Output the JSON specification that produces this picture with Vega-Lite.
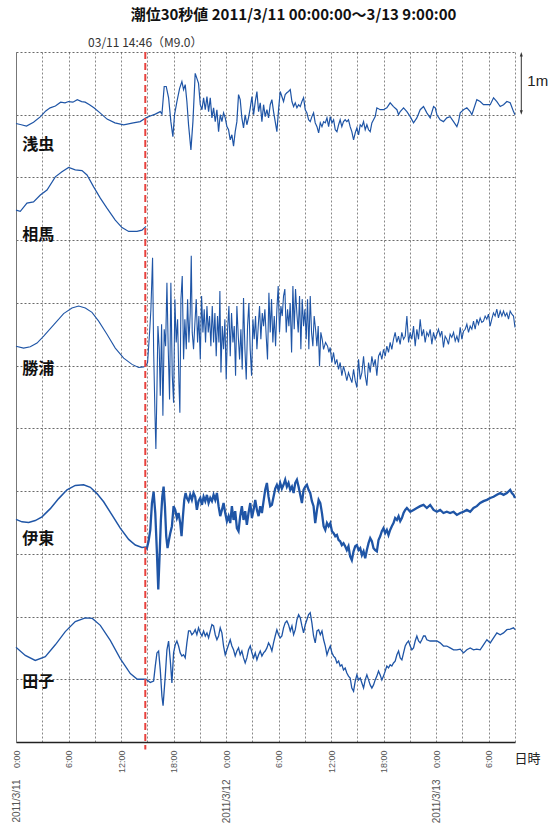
{
"$schema":"https://vega.github.io/schema/vega-lite/v6.json",
"width":499,"height":690,
"autosize":{"type":"none"},
"padding":{"left":16,"top":52,"right":33,"bottom":81},
"background":"white",
"title":{"text":"潮位30秒値  2011/3/11 00:00:00～3/13 9:00:00","font":"Noto Sans CJK JP","fontSize":15,"fontWeight":"bold","color":"#111","anchor":"middle","frame":"group","dx":28,"offset":2,"baseline":"alphabetic"},
"config":{"view":{"stroke":null}},
"resolve":{"axis":{"x":"independent","y":"independent"}},
"datasets":{
"asamushi":[{"h":0,"v":9.86},{"h":0.6,"v":9.84},{"h":1.2,"v":9.82},{"h":2.0,"v":9.88},{"h":2.8,"v":9.97},{"h":3.4,"v":10.06},{"h":3.9,"v":10.11},{"h":4.5,"v":10.14},{"h":5.1,"v":10.2},{"h":5.6,"v":10.19},{"h":6.0,"v":10.21},{"h":6.5,"v":10.2},{"h":7.0,"v":10.24},{"h":7.5,"v":10.21},{"h":7.9,"v":10.2},{"h":8.4,"v":10.16},{"h":8.9,"v":10.11},{"h":9.6,"v":10.03},{"h":10.4,"v":9.93},{"h":11.3,"v":9.87},{"h":12.3,"v":9.84},{"h":13.4,"v":9.87},{"h":14.19,"v":9.89},{"h":14.85,"v":9.95},
{"h":15.34,"v":9.98},{"h":15.91,"v":10.01},{"h":16.48,"v":10.05},{"h":16.67,"v":10.01},{"h":16.93,"v":10.45},{"h":17.16,"v":10.45},{"h":17.43,"v":10.27},{"h":17.69,"v":9.89},{"h":17.92,"v":9.65},{"h":18.11,"v":10.0},{"h":18.38,"v":10.21},{"h":18.69,"v":10.42},{"h":18.95,"v":10.53},{"h":19.14,"v":10.4},{"h":19.33,"v":10.48},{"h":19.52,"v":10.21},{"h":19.71,"v":9.84},{"h":19.98,"v":9.44},{"h":20.21,"v":9.89},{"h":20.47,"v":10.66},{"h":20.66,"v":10.58},{"h":20.85,"v":10.5},{"h":21.05,"v":10.16},{"h":21.24,"v":10.08},{"h":21.43,"v":10.27},{"h":21.62,"v":10.08},{"h":21.81,"v":10.29},{"h":22.0,"v":10.05},{"h":22.19,"v":10.27},{"h":22.38,"v":9.95},{"h":22.57,"v":10.11},{"h":22.76,"v":9.89},{"h":22.95,"v":10.08},{"h":23.14,"v":9.73},{"h":23.33,"v":10.0},{"h":23.52,"v":9.89},{"h":23.71,"v":10.03},{"h":23.9,"v":9.95},{"h":24.09,"v":9.81},{"h":24.28,"v":9.76},{"h":24.47,"v":9.6},{"h":24.66,"v":9.68},{"h":24.85,"v":9.5},{"h":25.04,"v":9.73},{"h":25.23,"v":9.89},{"h":25.42,"v":10.32},{"h":25.61,"v":10.24},{"h":25.8,"v":9.95},{"h":25.99,"v":9.79},{"h":26.18,"v":10.0},{"h":26.37,"v":9.84},{"h":26.56,"v":9.95},{"h":26.76,"v":10.11},{"h":26.95,"v":10.29},{"h":27.14,"v":10.0},{"h":27.33,"v":10.21},{"h":27.52,"v":10.37},{"h":27.71,"v":10.05},{"h":27.9,"v":10.19},{"h":28.09,"v":9.89},{"h":28.28,"v":10.16},{"h":28.47,"v":9.97},{"h":28.66,"v":10.08},{"h":28.85,"v":9.95},{"h":29.04,"v":10.16},{"h":29.23,"v":10.24},{"h":29.42,"v":10.05},{"h":29.61,"v":9.89},{"h":29.8,"v":9.73},{"h":29.99,"v":10.08},{"h":30.18,"v":10.37},{"h":30.37,"v":10.29},{"h":30.56,"v":10.21},{"h":30.75,"v":10.32},{"h":30.94,"v":10.35},{"h":31.13,"v":10.37},{"h":31.33,"v":10.4},{"h":31.52,"v":10.21},{"h":31.71,"v":10.13},{"h":31.9,"v":10.19},{"h":32.09,"v":10.11},{"h":32.28,"v":10.16},{"h":32.47,"v":10.13},{"h":32.66,"v":10.21},{"h":32.85,"v":10.27},{"h":33.04,"v":10.08},{"h":33.23,"v":10.03},{"h":33.42,"v":9.92},{"h":33.61,"v":9.89},{"h":33.8,"v":9.97},{"h":33.99,"v":10.03},{"h":34.18,"v":9.87},{"h":34.38,"v":9.81},{"h":34.57,"v":9.71},{"h":34.76,"v":9.87},{"h":34.95,"v":9.81},{"h":35.14,"v":9.89},{"h":35.33,"v":9.87},{"h":35.52,"v":9.95},{"h":35.71,"v":9.81},{"h":35.9,"v":9.97},{"h":36.09,"v":9.87},{"h":36.28,"v":9.92},{"h":36.47,"v":9.76},{"h":36.66,"v":9.73},{"h":36.85,"v":9.84},{"h":37.03,"v":9.92},{"h":37.22,"v":9.81},{"h":37.41,"v":9.89},{"h":37.6,"v":9.92},{"h":37.79,"v":9.89},{"h":37.98,"v":9.92},{"h":38.17,"v":9.81},{"h":38.36,"v":9.73},{"h":38.56,"v":9.6},{"h":38.75,"v":9.71},{"h":38.94,"v":9.79},{"h":39.13,"v":9.68},{"h":39.32,"v":9.84},{"h":39.51,"v":9.81},{"h":39.7,"v":9.89},{"h":39.89,"v":9.76},{"h":40.08,"v":9.84},{"h":40.27,"v":9.76},{"h":40.46,"v":9.73},{"h":40.65,"v":9.87},{"h":40.84,"v":9.92},{"h":41.03,"v":9.97},{"h":41.22,"v":10.11},{"h":41.6,"v":10.08},{"h":41.98,"v":10.08},{"h":42.36,"v":10.11},{"h":42.74,"v":10.19},{"h":43.12,"v":10.13},{"h":43.51,"v":10.08},{"h":43.7,"v":10.0},{"h":43.89,"v":10.05},{"h":44.27,"v":10.11},{"h":44.65,"v":10.05},{"h":45.03,"v":9.97},{"h":45.41,"v":9.87},{"h":45.79,"v":9.95},{"h":46.17,"v":10.08},{"h":46.55,"v":10.13},{"h":46.93,"v":10.03},{"h":47.31,"v":9.95},{"h":47.7,"v":10.13},{"h":47.89,"v":10.11},{"h":48.08,"v":10.0},{"h":48.45,"v":9.92},{"h":48.83,"v":9.89},{"h":49.21,"v":9.95},{"h":49.59,"v":9.97},{"h":49.98,"v":9.89},{"h":50.36,"v":9.81},{"h":50.55,"v":9.89},{"h":50.74,"v":10.03},{"h":51.12,"v":10.08},{"h":51.5,"v":10.11},{"h":51.88,"v":10.05},{"h":52.07,"v":10.0},{"h":52.26,"v":10.08},{"h":52.64,"v":10.24},{"h":53.02,"v":10.21},{"h":53.4,"v":10.16},{"h":53.79,"v":10.16},{"h":54.17,"v":10.16},{"h":54.55,"v":10.27},{"h":54.93,"v":10.21},{"h":55.31,"v":10.13},{"h":55.69,"v":10.16},{"h":56.07,"v":10.21},{"h":56.45,"v":10.19},{"h":56.83,"v":10.05},{"h":57.0,"v":10.0}],
"soma":[{"h":0,"v":8.48},{"h":0.49,"v":8.46},{"h":1.25,"v":8.59},{"h":2.0,"v":8.61},{"h":2.78,"v":8.72},{"h":3.54,"v":8.8},{"h":4.49,"v":9.01},{"h":5.25,"v":9.09},{"h":6.01,"v":9.16},{"h":6.77,"v":9.12},{"h":7.54,"v":9.11},{"h":8.11,"v":9.04},{"h":8.87,"v":8.85},{"h":9.63,"v":8.67},{"h":10.39,"v":8.51},{"h":11.34,"v":8.32},{"h":12.11,"v":8.2},{"h":12.87,"v":8.14},{"h":13.82,"v":8.14},{"h":14.39,"v":8.16},{"h":14.85,"v":8.22}],
"katsuura":[{"h":0,"v":6.31},{"h":0.87,"v":6.28},{"h":1.63,"v":6.3},{"h":2.4,"v":6.36},{"h":3.16,"v":6.47},{"h":4.3,"v":6.65},{"h":5.44,"v":6.83},{"h":6.39,"v":6.92},{"h":7.16,"v":6.95},{"h":7.92,"v":6.92},{"h":8.68,"v":6.85},{"h":9.44,"v":6.71},{"h":10.39,"v":6.5},{"h":11.34,"v":6.28},{"h":12.3,"v":6.12},{"h":13.25,"v":6.02},{"h":14.01,"v":5.97},{"h":14.58,"v":5.98},{"h":14.85,"v":6.0},
{"h":15.03,"v":6.05},{"h":15.26,"v":6.53},{"h":15.41,"v":6.9},{"h":15.6,"v":7.72},{"h":15.72,"v":6.26},{"h":15.87,"v":5.25},{"h":15.98,"v":4.67},{"h":16.1,"v":5.62},{"h":16.21,"v":6.63},{"h":16.36,"v":6.26},{"h":16.48,"v":5.52},{"h":16.63,"v":6.66},{"h":16.78,"v":5.2},{"h":16.93,"v":6.58},{"h":17.09,"v":6.31},{"h":17.24,"v":7.32},{"h":17.39,"v":6.26},{"h":17.54,"v":5.46},{"h":17.69,"v":7.32},{"h":17.85,"v":5.84},{"h":18.0,"v":5.41},{"h":18.15,"v":7.06},{"h":18.3,"v":6.37},{"h":18.46,"v":6.74},{"h":18.61,"v":5.73},{"h":18.72,"v":5.25},{"h":18.84,"v":7.06},{"h":18.99,"v":7.43},{"h":19.14,"v":6.1},{"h":19.29,"v":6.74},{"h":19.45,"v":6.26},{"h":19.6,"v":7.06},{"h":19.75,"v":6.37},{"h":19.9,"v":6.84},{"h":20.02,"v":7.75},{"h":20.13,"v":6.53},{"h":20.28,"v":6.26},{"h":20.44,"v":6.69},{"h":20.59,"v":7.06},{"h":20.74,"v":6.37},{"h":20.89,"v":6.79},{"h":21.05,"v":6.1},{"h":21.2,"v":7.11},{"h":21.35,"v":6.53},{"h":21.5,"v":6.9},{"h":21.65,"v":6.37},{"h":21.81,"v":6.95},{"h":21.96,"v":6.53},{"h":22.11,"v":6.79},{"h":22.26,"v":6.31},{"h":22.42,"v":6.95},{"h":22.57,"v":6.37},{"h":22.72,"v":6.84},{"h":22.87,"v":6.15},{"h":23.02,"v":6.79},{"h":23.18,"v":6.37},{"h":23.29,"v":7.19},{"h":23.41,"v":5.89},{"h":23.56,"v":6.63},{"h":23.71,"v":6.26},{"h":23.86,"v":6.74},{"h":24.01,"v":5.78},{"h":24.17,"v":6.58},{"h":24.32,"v":6.95},{"h":24.47,"v":6.15},{"h":24.62,"v":6.84},{"h":24.78,"v":6.37},{"h":24.93,"v":6.63},{"h":25.08,"v":5.84},{"h":25.23,"v":6.95},{"h":25.39,"v":6.47},{"h":25.54,"v":6.1},{"h":25.69,"v":6.58},{"h":25.84,"v":5.94},{"h":25.99,"v":7.08},{"h":26.15,"v":6.26},{"h":26.3,"v":5.78},{"h":26.45,"v":6.63},{"h":26.6,"v":7.0},{"h":26.75,"v":6.26},{"h":26.91,"v":5.84},{"h":27.06,"v":6.74},{"h":27.21,"v":6.42},{"h":27.36,"v":6.79},{"h":27.52,"v":6.26},{"h":27.67,"v":6.63},{"h":27.82,"v":6.95},{"h":27.97,"v":6.42},{"h":28.13,"v":6.84},{"h":28.28,"v":6.63},{"h":28.43,"v":6.9},{"h":28.58,"v":6.47},{"h":28.73,"v":6.1},{"h":28.89,"v":7.16},{"h":29.04,"v":6.53},{"h":29.19,"v":7.06},{"h":29.34,"v":6.37},{"h":29.5,"v":6.79},{"h":29.65,"v":6.31},{"h":29.8,"v":6.9},{"h":29.95,"v":7.27},{"h":30.1,"v":6.53},{"h":30.26,"v":6.95},{"h":30.41,"v":6.79},{"h":30.56,"v":7.11},{"h":30.71,"v":7.22},{"h":30.87,"v":6.53},{"h":31.02,"v":6.9},{"h":31.17,"v":6.63},{"h":31.32,"v":7.0},{"h":31.48,"v":6.21},{"h":31.63,"v":7.27},{"h":31.78,"v":6.58},{"h":31.93,"v":7.22},{"h":32.08,"v":6.84},{"h":32.24,"v":6.53},{"h":32.39,"v":7.11},{"h":32.54,"v":6.26},{"h":32.69,"v":7.06},{"h":32.85,"v":6.63},{"h":33.0,"v":6.9},{"h":33.15,"v":6.42},{"h":33.3,"v":7.06},{"h":33.45,"v":6.26},{"h":33.61,"v":7.11},{"h":33.76,"v":6.53},{"h":33.91,"v":6.31},{"h":34.06,"v":6.79},{"h":34.22,"v":6.58},{"h":34.37,"v":6.31},{"h":34.52,"v":6.63},{"h":34.67,"v":5.99},{"h":34.82,"v":6.53},{"h":34.98,"v":6.42},{"h":35.13,"v":6.26},{"h":35.36,"v":6.37},{"h":35.59,"v":6.31},{"h":35.74,"v":6.21},{"h":35.89,"v":6.29},{"h":36.08,"v":6.05},{"h":36.27,"v":6.21},{"h":36.46,"v":6.02},{"h":36.65,"v":6.1},{"h":36.84,"v":5.94},{"h":37.03,"v":6.05},{"h":37.22,"v":5.84},{"h":37.41,"v":5.99},{"h":37.6,"v":5.89},{"h":37.79,"v":5.76},{"h":37.98,"v":5.89},{"h":38.17,"v":5.81},{"h":38.37,"v":5.73},{"h":38.56,"v":5.94},{"h":38.75,"v":5.76},{"h":38.94,"v":5.65},{"h":39.13,"v":6.1},{"h":39.32,"v":5.78},{"h":39.51,"v":5.89},{"h":39.7,"v":6.15},{"h":39.89,"v":5.84},{"h":40.08,"v":5.68},{"h":40.27,"v":6.05},{"h":40.46,"v":5.89},{"h":40.65,"v":6.15},{"h":40.84,"v":5.99},{"h":41.03,"v":6.1},{"h":41.22,"v":5.84},{"h":41.41,"v":6.15},{"h":41.6,"v":6.21},{"h":41.79,"v":6.1},{"h":41.98,"v":6.26},{"h":42.17,"v":6.15},{"h":42.36,"v":6.31},{"h":42.55,"v":6.21},{"h":42.74,"v":6.37},{"h":42.93,"v":6.26},{"h":43.12,"v":6.42},{"h":43.31,"v":6.53},{"h":43.5,"v":6.37},{"h":43.69,"v":6.47},{"h":43.88,"v":6.34},{"h":44.07,"v":6.53},{"h":44.27,"v":6.42},{"h":44.46,"v":6.47},{"h":44.65,"v":6.79},{"h":44.84,"v":6.37},{"h":45.03,"v":6.53},{"h":45.22,"v":6.42},{"h":45.41,"v":6.63},{"h":45.6,"v":6.31},{"h":45.79,"v":6.58},{"h":45.98,"v":6.42},{"h":46.17,"v":6.74},{"h":46.36,"v":6.47},{"h":46.55,"v":6.58},{"h":46.74,"v":6.37},{"h":46.93,"v":6.53},{"h":47.12,"v":6.47},{"h":47.31,"v":6.58},{"h":47.5,"v":6.34},{"h":47.69,"v":6.53},{"h":47.88,"v":6.42},{"h":48.07,"v":6.5},{"h":48.26,"v":6.58},{"h":48.45,"v":6.47},{"h":48.64,"v":6.55},{"h":48.83,"v":6.29},{"h":49.02,"v":6.47},{"h":49.21,"v":6.42},{"h":49.4,"v":6.34},{"h":49.59,"v":6.5},{"h":49.78,"v":6.45},{"h":49.98,"v":6.53},{"h":50.17,"v":6.39},{"h":50.36,"v":6.47},{"h":50.55,"v":6.37},{"h":50.74,"v":6.61},{"h":50.93,"v":6.42},{"h":51.12,"v":6.55},{"h":51.31,"v":6.58},{"h":51.5,"v":6.66},{"h":51.69,"v":6.53},{"h":51.88,"v":6.63},{"h":52.07,"v":6.58},{"h":52.26,"v":6.71},{"h":52.45,"v":6.58},{"h":52.64,"v":6.74},{"h":52.83,"v":6.66},{"h":53.02,"v":6.76},{"h":53.21,"v":6.69},{"h":53.4,"v":6.71},{"h":53.59,"v":6.79},{"h":53.78,"v":6.74},{"h":53.97,"v":6.82},{"h":54.16,"v":6.63},{"h":54.35,"v":6.74},{"h":54.54,"v":6.84},{"h":54.73,"v":6.79},{"h":54.92,"v":6.9},{"h":55.11,"v":6.76},{"h":55.31,"v":6.87},{"h":55.5,"v":6.79},{"h":55.69,"v":6.87},{"h":55.88,"v":6.79},{"h":56.07,"v":6.84},{"h":56.26,"v":6.74},{"h":56.45,"v":6.87},{"h":56.64,"v":6.82},{"h":56.83,"v":6.79},{"h":57.0,"v":6.61}],
"ito":[{"h":0,"v":3.55},{"h":0.68,"v":3.51},{"h":1.44,"v":3.5},{"h":2.2,"v":3.53},{"h":2.97,"v":3.59},{"h":3.92,"v":3.72},{"h":4.87,"v":3.88},{"h":5.83,"v":4.02},{"h":6.77,"v":4.09},{"h":7.72,"v":4.1},{"h":8.49,"v":4.06},{"h":9.25,"v":3.96},{"h":10.01,"v":3.83},{"h":10.96,"v":3.62},{"h":11.91,"v":3.41},{"h":12.87,"v":3.23},{"h":13.63,"v":3.14},{"h":14.39,"v":3.1},{"h":14.85,"v":3.11},
{"h":14.95,"v":3.09},{"h":15.14,"v":3.2},{"h":15.34,"v":3.38},{"h":15.53,"v":3.81},{"h":15.72,"v":3.99},{"h":15.91,"v":3.65},{"h":16.1,"v":3.01},{"h":16.25,"v":2.43},{"h":16.4,"v":2.96},{"h":16.55,"v":3.54},{"h":16.71,"v":3.91},{"h":16.86,"v":4.07},{"h":17.01,"v":3.76},{"h":17.16,"v":3.28},{"h":17.31,"v":3.09},{"h":17.47,"v":3.22},{"h":17.62,"v":3.33},{"h":17.81,"v":3.44},{"h":18.0,"v":3.76},{"h":18.19,"v":3.7},{"h":18.38,"v":3.57},{"h":18.57,"v":3.65},{"h":18.76,"v":3.49},{"h":18.91,"v":3.28},{"h":19.07,"v":3.6},{"h":19.22,"v":3.86},{"h":19.37,"v":3.97},{"h":19.52,"v":3.89},{"h":19.71,"v":3.84},{"h":19.9,"v":3.94},{"h":20.09,"v":3.86},{"h":20.28,"v":3.97},{"h":20.47,"v":3.91},{"h":20.66,"v":3.7},{"h":20.85,"v":3.84},{"h":21.05,"v":3.89},{"h":21.24,"v":3.78},{"h":21.43,"v":3.91},{"h":21.62,"v":3.84},{"h":21.81,"v":3.94},{"h":22.0,"v":3.81},{"h":22.19,"v":3.89},{"h":22.38,"v":3.84},{"h":22.57,"v":3.94},{"h":22.76,"v":3.86},{"h":22.95,"v":3.97},{"h":23.14,"v":3.76},{"h":23.33,"v":3.6},{"h":23.52,"v":3.7},{"h":23.71,"v":3.81},{"h":23.9,"v":3.65},{"h":24.09,"v":3.52},{"h":24.28,"v":3.6},{"h":24.47,"v":3.49},{"h":24.66,"v":3.76},{"h":24.85,"v":3.54},{"h":25.04,"v":3.68},{"h":25.23,"v":3.41},{"h":25.42,"v":3.36},{"h":25.61,"v":3.6},{"h":25.8,"v":3.76},{"h":25.99,"v":3.54},{"h":26.18,"v":3.68},{"h":26.37,"v":3.46},{"h":26.56,"v":3.65},{"h":26.76,"v":3.81},{"h":26.95,"v":3.57},{"h":27.14,"v":3.7},{"h":27.33,"v":3.86},{"h":27.52,"v":3.7},{"h":27.71,"v":3.6},{"h":27.9,"v":3.76},{"h":28.09,"v":3.65},{"h":28.28,"v":3.84},{"h":28.47,"v":4.02},{"h":28.66,"v":4.13},{"h":28.85,"v":3.91},{"h":29.04,"v":3.76},{"h":29.23,"v":3.78},{"h":29.42,"v":3.91},{"h":29.61,"v":4.04},{"h":29.8,"v":4.1},{"h":29.99,"v":4.02},{"h":30.18,"v":4.13},{"h":30.37,"v":4.04},{"h":30.56,"v":4.1},{"h":30.75,"v":4.18},{"h":30.94,"v":4.07},{"h":31.13,"v":4.13},{"h":31.33,"v":4.02},{"h":31.52,"v":4.07},{"h":31.71,"v":3.97},{"h":31.9,"v":4.13},{"h":32.09,"v":4.18},{"h":32.28,"v":4.07},{"h":32.47,"v":3.94},{"h":32.66,"v":3.81},{"h":32.85,"v":4.02},{"h":33.04,"v":4.07},{"h":33.23,"v":4.1},{"h":33.42,"v":4.02},{"h":33.61,"v":3.97},{"h":33.8,"v":3.84},{"h":33.99,"v":3.76},{"h":34.18,"v":3.49},{"h":34.38,"v":3.7},{"h":34.57,"v":3.86},{"h":34.76,"v":3.81},{"h":34.95,"v":3.65},{"h":35.14,"v":3.44},{"h":35.33,"v":3.38},{"h":35.52,"v":3.49},{"h":35.71,"v":3.44},{"h":35.9,"v":3.49},{"h":36.09,"v":3.36},{"h":36.28,"v":3.33},{"h":36.47,"v":3.28},{"h":36.66,"v":3.3},{"h":36.85,"v":3.22},{"h":37.03,"v":3.2},{"h":37.22,"v":3.14},{"h":37.41,"v":3.17},{"h":37.6,"v":3.12},{"h":37.79,"v":3.06},{"h":37.98,"v":3.12},{"h":38.17,"v":2.96},{"h":38.36,"v":2.9},{"h":38.56,"v":3.04},{"h":38.75,"v":3.12},{"h":38.94,"v":3.14},{"h":39.13,"v":3.06},{"h":39.32,"v":3.09},{"h":39.51,"v":2.98},{"h":39.7,"v":3.04},{"h":39.89,"v":2.93},{"h":40.08,"v":3.06},{"h":40.27,"v":3.17},{"h":40.46,"v":3.25},{"h":40.65,"v":3.2},{"h":40.84,"v":3.09},{"h":41.03,"v":3.06},{"h":41.22,"v":3.04},{"h":41.41,"v":3.22},{"h":41.6,"v":3.28},{"h":41.79,"v":3.36},{"h":41.98,"v":3.41},{"h":42.17,"v":3.33},{"h":42.36,"v":3.38},{"h":42.55,"v":3.3},{"h":42.74,"v":3.38},{"h":42.93,"v":3.44},{"h":43.12,"v":3.49},{"h":43.31,"v":3.57},{"h":43.51,"v":3.54},{"h":43.7,"v":3.6},{"h":43.89,"v":3.52},{"h":44.08,"v":3.57},{"h":44.27,"v":3.65},{"h":44.46,"v":3.7},{"h":44.65,"v":3.73},{"h":45.03,"v":3.67},{"h":45.41,"v":3.7},{"h":45.79,"v":3.73},{"h":46.17,"v":3.76},{"h":46.55,"v":3.78},{"h":46.93,"v":3.73},{"h":47.31,"v":3.78},{"h":47.7,"v":3.7},{"h":48.08,"v":3.67},{"h":48.45,"v":3.7},{"h":48.83,"v":3.65},{"h":49.21,"v":3.67},{"h":49.59,"v":3.65},{"h":49.98,"v":3.67},{"h":50.36,"v":3.62},{"h":50.74,"v":3.65},{"h":51.12,"v":3.67},{"h":51.5,"v":3.7},{"h":51.88,"v":3.67},{"h":52.26,"v":3.73},{"h":52.64,"v":3.76},{"h":53.02,"v":3.81},{"h":53.4,"v":3.84},{"h":53.79,"v":3.86},{"h":54.17,"v":3.89},{"h":54.55,"v":3.91},{"h":54.93,"v":3.94},{"h":55.31,"v":3.97},{"h":55.69,"v":3.94},{"h":56.07,"v":3.97},{"h":56.45,"v":4.02},{"h":56.64,"v":3.97},{"h":56.83,"v":3.94},{"h":57.0,"v":3.89}],
"tago":[{"h":0,"v":1.51},{"h":1.06,"v":1.38},{"h":2.2,"v":1.3},{"h":3.35,"v":1.36},{"h":4.49,"v":1.55},{"h":5.63,"v":1.76},{"h":6.77,"v":1.92},{"h":7.92,"v":1.98},{"h":8.72,"v":1.97},{"h":9.63,"v":1.86},{"h":10.77,"v":1.62},{"h":11.91,"v":1.33},{"h":13.06,"v":1.09},{"h":13.86,"v":1.0},{"h":14.85,"v":1.0},
{"h":15.34,"v":0.95},{"h":15.72,"v":0.97},{"h":15.91,"v":1.21},{"h":16.1,"v":1.42},{"h":16.29,"v":1.45},{"h":16.48,"v":1.15},{"h":16.67,"v":0.73},{"h":16.8,"v":0.58},{"h":17.05,"v":1.05},{"h":17.24,"v":1.47},{"h":17.43,"v":1.61},{"h":17.62,"v":1.31},{"h":17.81,"v":0.94},{"h":18.0,"v":1.42},{"h":18.19,"v":1.55},{"h":18.38,"v":1.61},{"h":18.57,"v":1.53},{"h":18.76,"v":1.42},{"h":18.95,"v":1.37},{"h":19.14,"v":1.39},{"h":19.33,"v":1.34},{"h":19.52,"v":1.58},{"h":19.71,"v":1.77},{"h":19.9,"v":1.77},{"h":20.09,"v":1.71},{"h":20.28,"v":1.74},{"h":20.47,"v":1.79},{"h":20.66,"v":1.71},{"h":20.85,"v":1.82},{"h":21.05,"v":1.74},{"h":21.24,"v":1.69},{"h":21.43,"v":1.77},{"h":21.62,"v":1.69},{"h":21.81,"v":1.74},{"h":22.0,"v":1.66},{"h":22.19,"v":1.77},{"h":22.38,"v":1.87},{"h":22.57,"v":1.85},{"h":22.76,"v":1.71},{"h":22.95,"v":1.63},{"h":23.14,"v":1.69},{"h":23.33,"v":1.82},{"h":23.52,"v":1.74},{"h":23.71,"v":1.53},{"h":23.9,"v":1.39},{"h":24.09,"v":1.47},{"h":24.28,"v":1.55},{"h":24.47,"v":1.63},{"h":24.66,"v":1.53},{"h":24.85,"v":1.47},{"h":25.04,"v":1.37},{"h":25.23,"v":1.45},{"h":25.42,"v":1.5},{"h":25.61,"v":1.39},{"h":25.8,"v":1.45},{"h":25.99,"v":1.34},{"h":26.18,"v":1.26},{"h":26.37,"v":1.34},{"h":26.56,"v":1.47},{"h":26.76,"v":1.53},{"h":26.95,"v":1.42},{"h":27.14,"v":1.34},{"h":27.33,"v":1.42},{"h":27.52,"v":1.31},{"h":27.71,"v":1.39},{"h":27.9,"v":1.45},{"h":28.09,"v":1.37},{"h":28.28,"v":1.42},{"h":28.47,"v":1.45},{"h":28.66,"v":1.5},{"h":28.85,"v":1.58},{"h":29.04,"v":1.53},{"h":29.23,"v":1.45},{"h":29.42,"v":1.58},{"h":29.61,"v":1.69},{"h":29.8,"v":1.79},{"h":29.99,"v":1.71},{"h":30.18,"v":1.66},{"h":30.37,"v":1.69},{"h":30.56,"v":1.82},{"h":30.75,"v":1.9},{"h":30.94,"v":1.93},{"h":31.13,"v":1.87},{"h":31.33,"v":1.77},{"h":31.52,"v":1.85},{"h":31.71,"v":1.71},{"h":31.9,"v":1.79},{"h":32.09,"v":1.95},{"h":32.28,"v":2.03},{"h":32.47,"v":1.98},{"h":32.66,"v":1.85},{"h":32.85,"v":1.74},{"h":33.04,"v":1.87},{"h":33.23,"v":1.95},{"h":33.42,"v":2.03},{"h":33.61,"v":2.06},{"h":33.8,"v":1.9},{"h":33.99,"v":1.69},{"h":34.18,"v":1.58},{"h":34.38,"v":1.77},{"h":34.57,"v":1.79},{"h":34.76,"v":1.71},{"h":34.95,"v":1.77},{"h":35.14,"v":1.63},{"h":35.33,"v":1.53},{"h":35.52,"v":1.39},{"h":35.71,"v":1.47},{"h":35.9,"v":1.53},{"h":36.09,"v":1.42},{"h":36.28,"v":1.37},{"h":36.47,"v":1.34},{"h":36.66,"v":1.26},{"h":36.85,"v":1.29},{"h":37.03,"v":1.21},{"h":37.22,"v":1.23},{"h":37.41,"v":1.15},{"h":37.6,"v":1.18},{"h":37.79,"v":1.1},{"h":37.98,"v":1.05},{"h":38.17,"v":1.02},{"h":38.36,"v":0.86},{"h":38.56,"v":0.81},{"h":38.75,"v":0.97},{"h":38.94,"v":1.07},{"h":39.13,"v":0.99},{"h":39.32,"v":1.02},{"h":39.51,"v":0.94},{"h":39.7,"v":0.86},{"h":39.89,"v":0.99},{"h":40.08,"v":1.07},{"h":40.27,"v":0.99},{"h":40.46,"v":0.91},{"h":40.65,"v":0.86},{"h":40.84,"v":0.91},{"h":41.03,"v":0.99},{"h":41.22,"v":1.05},{"h":41.41,"v":1.13},{"h":41.6,"v":1.07},{"h":41.79,"v":0.99},{"h":41.98,"v":1.05},{"h":42.17,"v":1.13},{"h":42.36,"v":1.21},{"h":42.55,"v":1.18},{"h":42.74,"v":1.23},{"h":42.93,"v":1.21},{"h":43.12,"v":1.26},{"h":43.31,"v":1.29},{"h":43.51,"v":1.39},{"h":43.7,"v":1.45},{"h":43.89,"v":1.34},{"h":44.08,"v":1.31},{"h":44.27,"v":1.42},{"h":44.46,"v":1.53},{"h":44.65,"v":1.58},{"h":44.84,"v":1.61},{"h":45.03,"v":1.53},{"h":45.22,"v":1.47},{"h":45.41,"v":1.5},{"h":45.6,"v":1.61},{"h":45.79,"v":1.69},{"h":45.98,"v":1.61},{"h":46.17,"v":1.58},{"h":46.36,"v":1.63},{"h":46.55,"v":1.69},{"h":46.74,"v":1.69},{"h":46.93,"v":1.63},{"h":47.31,"v":1.61},{"h":47.7,"v":1.61},{"h":48.08,"v":1.61},{"h":48.45,"v":1.58},{"h":48.83,"v":1.53},{"h":49.21,"v":1.53},{"h":49.59,"v":1.5},{"h":49.98,"v":1.47},{"h":50.36,"v":1.47},{"h":50.74,"v":1.48},{"h":51.12,"v":1.42},{"h":51.5,"v":1.47},{"h":51.88,"v":1.5},{"h":52.26,"v":1.47},{"h":52.64,"v":1.48},{"h":53.02,"v":1.47},{"h":53.4,"v":1.55},{"h":53.79,"v":1.63},{"h":54.17,"v":1.58},{"h":54.55,"v":1.66},{"h":54.93,"v":1.74},{"h":55.31,"v":1.71},{"h":55.69,"v":1.74},{"h":56.07,"v":1.79},{"h":56.45,"v":1.8},{"h":56.83,"v":1.82},{"h":57.0,"v":1.79}]
},
"layer":[
{"data":{"name":"asamushi"},"mark":{"type":"line","color":"#1f55a6","strokeWidth":1.2},
 "encoding":{
  "x":{"field":"h","type":"quantitative","scale":{"domain":[0,57],"nice":false,"zero":false},
   "axis":{"orient":"bottom","values":[0,3,6,9,12,15,18,21,24,27,30,33,36,39,42,45,48,51,54,57],"title":null,"grid":true,"gridColor":"#888","gridDash":[2,2],"gridWidth":1,"domain":true,"domainColor":"#222","domainWidth":1.5,"ticks":false,"tickSize":0,"labelAngle":-90,"labelAlign":"right","labelBaseline":"middle","labelPadding":8,"labelFont":"Liberation Sans","labelFontSize":9,"labelColor":"#555","labelOverlap":false,"labelBound":false,"labelFlush":false,"labelExpr":"datum.value % 6 == 0 && datum.value < 57 ? (datum.value % 24) + ':00' : ''"}},
  "y":{"field":"v","type":"quantitative","scale":{"domain":[0,11],"nice":false,"zero":false},
   "axis":{"orient":"left","values":[0,1,2,3,4,5,6,7,8,9,10,11],"title":null,"grid":true,"gridColor":"#444","gridDash":[2,2],"gridWidth":0.8,"gridOpacity":1,"labels":false,"ticks":false,"tickSize":0,"domain":true,"domainColor":"#777","domainWidth":1}}}},
{"data":{"name":"soma"},"mark":{"type":"line","color":"#1f55a6","strokeWidth":1.2},
 "encoding":{"x":{"field":"h","type":"quantitative","axis":null},"y":{"field":"v","type":"quantitative","axis":null}}},
{"data":{"name":"katsuura"},"mark":{"type":"line","color":"#1f55a6","strokeWidth":1.1},
 "encoding":{"x":{"field":"h","type":"quantitative","axis":null},"y":{"field":"v","type":"quantitative","axis":null}}},
{"data":{"name":"ito"},"transform":[{"filter":"datum.h <= 14.85"}],"mark":{"type":"line","color":"#1f55a6","strokeWidth":1.5},
 "encoding":{"x":{"field":"h","type":"quantitative","axis":null},"y":{"field":"v","type":"quantitative","axis":null}}},
{"data":{"name":"ito"},"transform":[{"filter":"datum.h >= 14.85"}],"mark":{"type":"line","color":"#1f55a6","strokeWidth":2.3},
 "encoding":{"x":{"field":"h","type":"quantitative","axis":null},"y":{"field":"v","type":"quantitative","axis":null}}},
{"data":{"name":"tago"},"mark":{"type":"line","color":"#1f55a6","strokeWidth":1.3},
 "encoding":{"x":{"field":"h","type":"quantitative","axis":null},"y":{"field":"v","type":"quantitative","axis":null}}},
{"data":{"values":[{"d":0},{"d":24},{"d":48}]},"mark":{"type":"point","opacity":0},
 "encoding":{"x":{"field":"d","type":"quantitative",
   "axis":{"orient":"bottom","values":[0,24,48],"title":null,"grid":false,"domain":false,"ticks":false,"tickSize":0,"labelAngle":-90,"labelAlign":"right","labelBaseline":"middle","labelPadding":37,"labelFont":"Liberation Sans","labelFontSize":10,"labelColor":"#555","labelOverlap":false,"labelBound":false,"labelFlush":false,"labelExpr":"datum.value == 0 ? '2011/3/11' : datum.value == 24 ? '2011/3/12' : '2011/3/13'"}},
  "y":{"datum":0,"type":"quantitative","axis":null}}},
{"data":{"values":[{}]},"mark":{"type":"rule","color":"#e8413c","strokeWidth":2,"strokeDash":[7,4]},
 "encoding":{"x":{"datum":14.77,"type":"quantitative","axis":null},"y":{"datum":11,"type":"quantitative","axis":null},"y2":{"datum":-0.12}}},
{"data":{"values":[{"name":"浅虫","h":0.72,"v":9.51},{"name":"相馬","h":0.72,"v":8.08},{"name":"勝浦","h":0.72,"v":5.94},{"name":"伊東","h":0.72,"v":3.23},{"name":"田子","h":0.72,"v":0.95}]},
 "mark":{"type":"text","font":"Noto Sans CJK JP","fontSize":16,"fontWeight":"bold","align":"left","baseline":"middle","color":"#111"},
 "encoding":{"x":{"field":"h","type":"quantitative","axis":null},"y":{"field":"v","type":"quantitative","axis":null},"text":{"field":"name"}}},
{"data":{"values":[{"t":"03/11 14:46（M9.0）"}]},
 "mark":{"type":"text","font":"Noto Sans CJK JP","fontSize":12,"align":"center","baseline":"bottom","dy":-2,"color":"#333"},
 "encoding":{"x":{"datum":14.77,"type":"quantitative","axis":null},"y":{"datum":11,"type":"quantitative","axis":null},"text":{"field":"t"}}},
{"data":{"values":[{}]},"mark":{"type":"rule","color":"#333","strokeWidth":1},
 "encoding":{"x":{"datum":57.72,"type":"quantitative","axis":null},"y":{"datum":10.05,"type":"quantitative","axis":null},"y2":{"datum":10.95}}},
{"data":{"values":[{}]},"mark":{"type":"point","shape":"M0,0L-0.6,1.8L0.6,1.8Z","size":25,"filled":true,"color":"#333","opacity":1},
 "encoding":{"x":{"datum":57.72,"type":"quantitative","axis":null},"y":{"datum":11,"type":"quantitative","axis":null}}},
{"data":{"values":[{}]},"mark":{"type":"point","shape":"M0,0L-0.6,-1.8L0.6,-1.8Z","size":25,"filled":true,"color":"#333","opacity":1},
 "encoding":{"x":{"datum":57.72,"type":"quantitative","axis":null},"y":{"datum":10,"type":"quantitative","axis":null}}},
{"data":{"values":[{"t":"1m"}]},
 "mark":{"type":"text","font":"Liberation Sans","fontSize":15,"align":"left","baseline":"middle","color":"#222"},
 "encoding":{"x":{"datum":58.41,"type":"quantitative","axis":null},"y":{"datum":10.54,"type":"quantitative","axis":null},"text":{"field":"t"}}},
{"data":{"values":[{"t":"日時"}]},
 "mark":{"type":"text","font":"Noto Sans CJK JP","fontSize":13,"align":"left","baseline":"middle","color":"#222"},
 "encoding":{"x":{"datum":56.95,"type":"quantitative","axis":null},"y":{"datum":-0.27,"type":"quantitative","axis":null},"text":{"field":"t"}}}
]
}
